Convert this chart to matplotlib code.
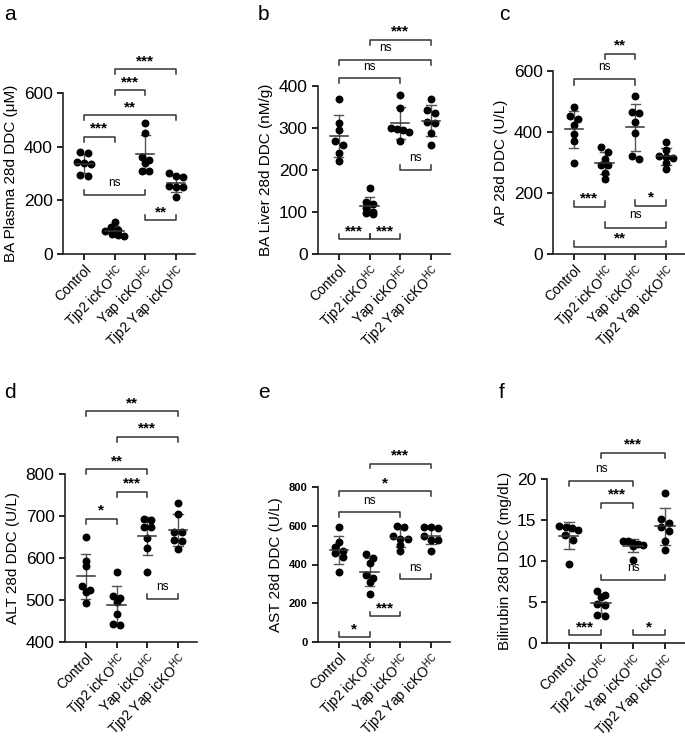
import numpy as np
import matplotlib
matplotlib.use("Agg")
import matplotlib.pyplot as plt

plt.rcParams["font.family"] = ["Liberation Sans", "DejaVu Sans"]
plt.rcParams["mathtext.fontset"] = "custom"
plt.rcParams["mathtext.rm"] = "Liberation Sans"

groups = ["Control", "Tjp2 icKO$^{\\mathrm{HC}}$", "Yap icKO$^{\\mathrm{HC}}$",
          "Tjp2 Yap icKO$^{\\mathrm{HC}}$"]

# panel a: BA plasma (uM)
a_vals = [
    [379, 377, 342, 338, 336, 294, 290],
    [120, 102, 90, 84, 74, 71, 68],
    [489, 452, 363, 350, 340, 309, 309],
    [303, 290, 286, 255, 250, 248, 214],
]
a_sig = [(0, 1, 437, "***", "up"), (0, 2, 220, "ns", "down"), (0, 3, 517, "**", "up"),
         (1, 2, 610, "***", "up"), (1, 3, 690, "***", "up"), (2, 3, 127, "**", "down")]

# panel b: BA liver (nM/g)
b_vals = [
    [370, 312, 295, 270, 260, 240, 222],
    [156, 125, 120, 110, 100, 97, 95],
    [378, 347, 300, 298, 296, 290, 268],
    [370, 343, 335, 315, 313, 287, 260],
]
b_sig = [(0, 1, 35, "***", "down"), (1, 2, 35, "***", "down"), (0, 2, 418, "ns", "up"),
         (0, 3, 463, "ns", "up"), (1, 3, 510, "***", "up"), (2, 3, 200, "ns", "down")]

# panel c: AP (U/L)
c_vals = [
    [481, 452, 442, 422, 395, 370, 300],
    [351, 335, 311, 292, 292, 265, 246],
    [519, 467, 463, 432, 397, 321, 311],
    [368, 340, 322, 318, 316, 300, 278],
]
c_sig = [(1, 2, 657, "**", "up"), (0, 2, 573, "ns", "up"), (0, 1, 155, "***", "down"),
         (2, 3, 158, "*", "down"), (1, 3, 86, "ns", "down"), (0, 3, 24, "**", "down")]

# panel d: ALT (U/L)
d_vals = [
    [650, 593, 581, 534, 523, 519, 494],
    [566, 510, 505, 495, 466, 443, 440],
    [694, 690, 674, 673, 648, 625, 567],
    [732, 704, 662, 662, 643, 641, 621],
]
d_sig = [(0, 3, 950, "**", "up"), (1, 3, 889, "***", "up"), (0, 2, 811, "**", "up"),
         (1, 2, 758, "***", "up"), (0, 1, 694, "*", "up"), (2, 3, 503, "ns", "down")]

# panel e: AST (U/L)
e_vals = [
    [591, 517, 491, 469, 457, 440, 362],
    [453, 436, 408, 345, 328, 310, 247],
    [599, 591, 548, 534, 530, 499, 470],
    [596, 591, 588, 548, 527, 527, 470],
]
e_sig = [(1, 3, 921, "***", "up"), (0, 3, 778, "*", "up"), (0, 2, 670, "ns", "up"),
         (2, 3, 325, "ns", "down"), (1, 2, 133, "***", "down"), (0, 1, 26, "*", "down")]

# panel f: bilirubin (mg/dL)
f_vals = [
    [14.3, 14.2, 14.0, 13.8, 13.2, 12.6, 9.6],
    [6.3, 5.9, 5.6, 4.7, 4.6, 3.4, 3.3],
    [12.5, 12.4, 12.2, 12.1, 12.0, 11.8, 10.1],
    [18.3, 15.1, 14.6, 14.2, 13.6, 12.4, 11.3],
]
f_sig = [(1, 3, 23.2, "***", "up"), (0, 2, 19.8, "ns", "up"), (1, 2, 17.1, "***", "up"),
         (1, 3, 7.7, "ns", "down"), (0, 1, 0.94, "***", "down"), (2, 3, 0.94, "*", "down")]

panels = [
    ("a", a_vals, a_sig, "BA Plasma 28d DDC (\u03bcM)", (0, 600), 200,
     [63, 93, 195, 254]),
    ("b", b_vals, b_sig, "BA Liver 28d DDC (nM/g)", (0, 400), 100,
     [318, 86, 450, 254]),
    ("c", c_vals, c_sig, "AP 28d DDC (U/L)", (0, 600), 200,
     [553, 71, 685, 254]),
    ("d", d_vals, d_sig, "ALT 28d DDC (U/L)", (400, 800), 100,
     [65, 474, 197, 642]),
    ("e", e_vals, e_sig, "AST 28d DDC (U/L)", (0, 800), 200,
     [318, 487, 450, 642]),
    ("f", f_vals, f_sig, "Bilirubin 28d DDC (mg/dL)", (0, 20), 5,
     [547, 479, 685, 643]),
]

W, H = 685, 746
fig = plt.figure(figsize=(W / 100, H / 100), dpi=100)


def swarm(vals, span):
    # group close values into rows and spread them sideways
    order = np.argsort(vals)[::-1]
    offs = np.zeros(len(vals))
    rows, cur = [], [order[0]]
    for k in order[1:]:
        if vals[cur[0]] - vals[k] < span * 0.03:
            cur.append(k)
        else:
            rows.append(cur)
            cur = [k]
    rows.append(cur)
    for r in rows:
        n = len(r)
        gap = 0.24 if n < 4 else 0.6 / (n - 1)
        for m, k in enumerate(r):
            offs[k] = (m - (n - 1) / 2) * gap
    return offs


for label, vals, sig, ylab, ylim, step, box in panels:
    x0, y0, x1, y1 = box
    ax = fig.add_axes([x0 / W, 1 - y1 / H, (x1 - x0) / W, (y1 - y0) / H])
    span = ylim[1] - ylim[0]
    for i, v in enumerate(vals):
        v = np.array(v, dtype=float)
        offs = swarm(v, span)
        ax.scatter(i + offs, v, s=22, color="black", zorder=3, clip_on=False)
        m, sd = v.mean(), v.std(ddof=1)
        ax.plot([i - 0.3, i + 0.3], [m, m], color="#333333", lw=1.1, zorder=4)
        ax.plot([i, i], [m - sd, m + sd], color="#555555", lw=1, zorder=2)
        for yy in (m - sd, m + sd):
            ax.plot([i - 0.15, i + 0.15], [yy, yy], color="#555555", lw=1, zorder=2)
    h = span * 0.03
    for i, j, yb, txt, kind in sig:
        if kind == "up":
            xs, ys = [i, i, j, j], [yb - h, yb, yb, yb - h]
        else:
            xs, ys = [i, i, j, j], [yb + h, yb, yb, yb + h]
        ax.plot(xs, ys, color="#333333", lw=1.1, clip_on=False)
        if txt == "ns":
            ax.text((i + j) / 2, yb + span * 0.035, txt, ha="center", va="bottom",
                    fontsize=8.5)
        else:
            ax.text((i + j) / 2, yb + span * 0.005, txt, ha="center", va="bottom",
                    fontsize=11, fontweight="bold")
    ax.set_xlim(-0.68, 3.62)
    ax.set_ylim(*ylim)
    ax.set_yticks(np.arange(ylim[0], ylim[1] + step / 2, step))
    ax.set_xticks(range(4))
    ax.set_xticklabels(groups, rotation=45, ha="right", rotation_mode="anchor",
                       fontsize=10)
    ax.spines["top"].set_visible(False)
    ax.spines["right"].set_visible(False)
    for s in ("left", "bottom"):
        ax.spines[s].set_linewidth(1.2)
        ax.spines[s].set_color("#222222")
    if label == "e":
        ax.tick_params(axis="y", labelsize=8, width=1.2, length=4)
        for t in ax.get_yticklabels():
            t.set_fontweight("bold")
    else:
        ax.tick_params(axis="y", labelsize=12.5, width=1.2, length=4)
    ax.tick_params(axis="x", width=1.2, length=4, pad=2)
    ax.set_ylabel(ylab, fontsize=11, labelpad=4)
    yl = 15 if label in "abc" else 392
    xl = {"a": 4, "b": 258, "c": 499, "d": 4, "e": 258, "f": 499}[label]
    fig.text(xl / W, 1 - yl / H, label, fontsize=15, va="center", ha="left")

fig.savefig("out.png", dpi=100)
